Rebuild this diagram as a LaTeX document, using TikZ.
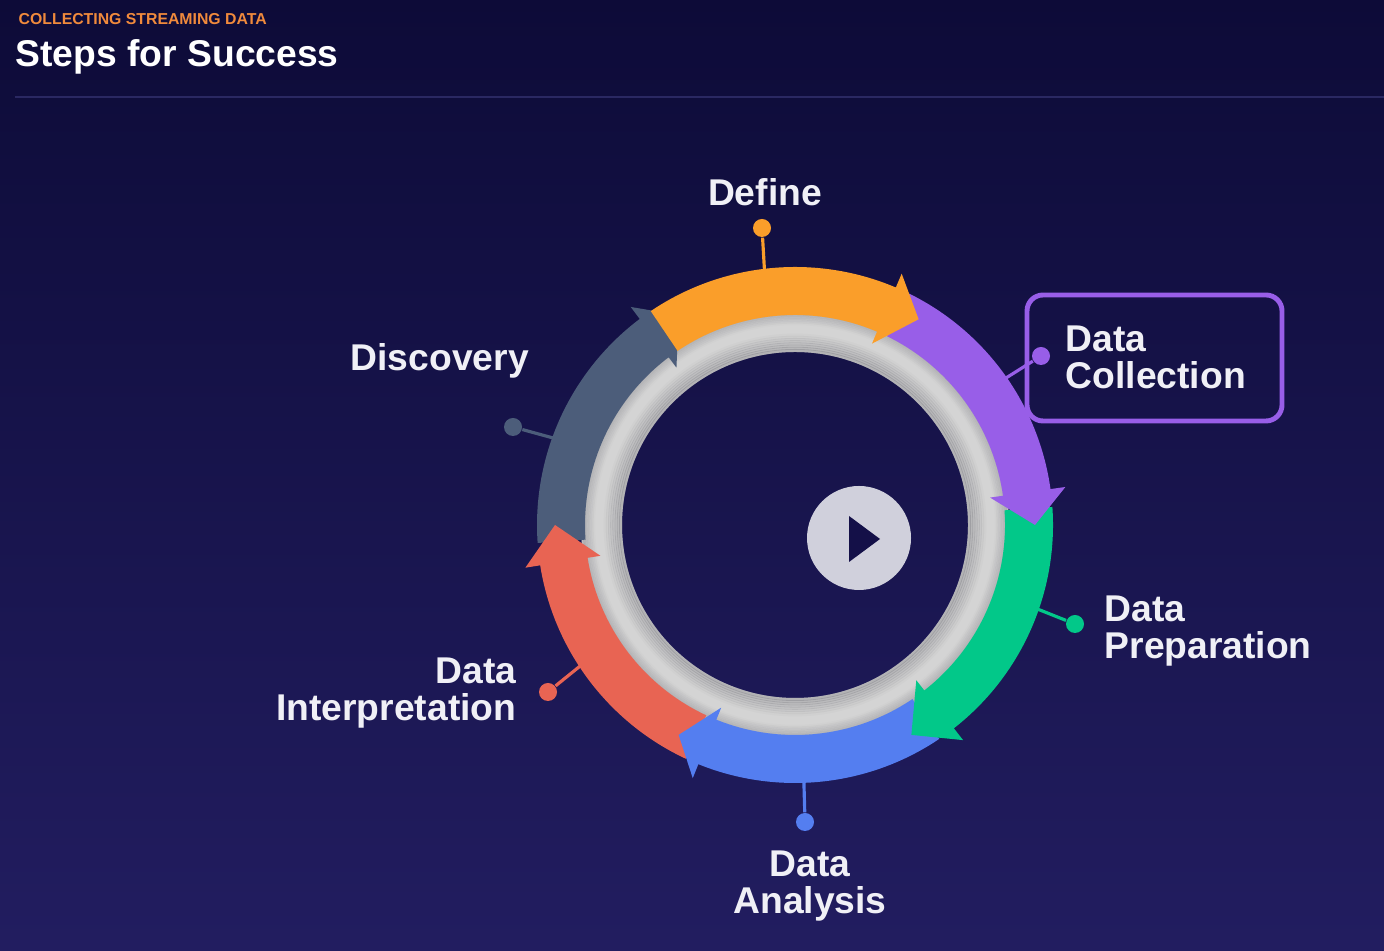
\documentclass[tikz,border=0pt]{standalone}
\usepackage{fontspec}
\setmainfont{Liberation Sans}
\usetikzlibrary{arrows.meta,positioning}
\definecolor{bgtop}{RGB}{13,11,56}
\definecolor{bgbot}{RGB}{34,29,96}
\definecolor{rule}{RGB}{42,40,98}
\definecolor{kicker}{RGB}{240,138,60}
\definecolor{labelwhite}{RGB}{240,240,246}
\definecolor{stepslate}{RGB}{76,93,122}
\definecolor{stepred}{RGB}{232,100,83}
\definecolor{stepblue}{RGB}{84,126,240}
\definecolor{stepgreen}{RGB}{2,200,137}
\definecolor{steppurple}{RGB}{152,94,232}
\definecolor{steporange}{RGB}{250,158,42}
\definecolor{ringgray}{RGB}{212,212,212}
\definecolor{ringdark}{RGB}{110,110,118}
\definecolor{playgray}{RGB}{208,208,220}
\definecolor{playdark}{RGB}{20,16,72}
\tikzset{
  lbl/.style={text=labelwhite, font=\fontsize{10.6}{10.5}\selectfont\bfseries, inner sep=0pt},
  tipdot/.style={circle, fill=#1, minimum size=0.18cm, inner sep=0pt},
  stem/.style={draw=#1, line width=0.9pt},
}

\begin{document}
\begin{tikzpicture}[>=Stealth]
\useasboundingbox (0,0) rectangle (13.84,9.51);
\fill[top color=bgtop, bottom color=bgbot] (0,0) rectangle (13.84,9.51);
\draw[rule, line width=0.6pt] (0.15,8.54) -- (13.84,8.54);
\node[anchor=base west, inner sep=0pt, text=kicker, font=\fontsize{4.5}{5}\selectfont\bfseries] (kicker) at (0.18,9.26) {COLLECTING STREAMING DATA};
\node[anchor=base west, inner sep=0pt, text=white, font=\fontsize{10.6}{12}\selectfont\bfseries] (title) at (0.15,8.84) {Steps for Success};

\begin{scope}[shift={(7.95,4.26)}]
\coordinate (rdef) at (97:2.45);
\coordinate (rcol) at (35:2.45);
\coordinate (rprep) at (-19:2.45);
\coordinate (rana) at (-88:2.45);
\coordinate (rint) at (213:2.45);
\coordinate (rdis) at (160:2.45);
\end{scope}

\node[tipdot=steporange] (ddef) at (7.62,7.23) {};
\node[tipdot=steppurple] (dcol) at (10.41,5.95) {};
\node[tipdot=stepgreen] (dprep) at (10.75,3.27) {};
\node[tipdot=stepblue] (dana) at (8.05,1.29) {};
\node[tipdot=stepred] (dint) at (5.48,2.59) {};
\node[tipdot=stepslate] (ddis) at (5.13,5.24) {};
\foreach \d/\r/\c in {ddef/rdef/steporange, dcol/rcol/steppurple, dprep/rprep/stepgreen,
                      dana/rana/stepblue, dint/rint/stepred, ddis/rdis/stepslate}{
  \draw[stem=\c] (\d) -- (\r);
}

\begin{scope}[shift={(7.95,4.26)}]
\fill[ringgray, even odd rule] (0,0) circle (2.14) (0,0) circle (1.73);
\foreach \i in {0,...,7}{
  \draw[ringdark, opacity={0.32*(1-\i/8)}, line width=0.3mm] (0,0) circle ({1.745+\i*0.022});
  \draw[ringdark, opacity={0.22*(1-\i/8)}, line width=0.3mm] (0,0) circle ({2.125-\i*0.016});
}
\foreach \s/\b/\t/\c in {184/127/119/stepslate, -115/-171/-180/stepred, -56/-112/-119/stepblue,
                         4/-52/-61/stepgreen, 64/8/0/steppurple, 124/67/59/steporange}{
  \fill[\c] (\s:2.58) arc[start angle=\s, end angle=\b, radius=2.58] -- (\b:2.73) -- (\t:2.40)
    -- (\b:1.97) -- (\b:2.10) arc[start angle=\b, end angle=\s, radius=2.10] -- cycle;
}
\end{scope}

\node[circle, fill=playgray, minimum size=1.04cm, inner sep=0pt] (play) at (8.59,4.13) {};
\fill[playdark] (8.49,4.35) -- (8.49,3.89) -- (8.80,4.12) -- cycle;

\node[draw=steppurple, line width=1.4pt, rounded corners=0.16cm, minimum width=2.55cm, minimum height=1.26cm] (colbox) at (11.545,5.93) {};
\node[lbl, anchor=north] (define) at (7.65,7.73) {Define};
\node[lbl, anchor=north west, align=left] (collect) at (10.65,6.26) {Data\\Collection};
\node[lbl, anchor=north west, align=left] (prep) at (11.04,3.56) {Data\\Preparation};
\node[lbl, anchor=north, align=center] (analysis) at (8.10,1.01) {Data\\Analysis};
\node[lbl, anchor=north east, align=right] (interp) at (5.17,2.94) {Data\\Interpretation};
\node[lbl, anchor=north west] (discovery) at (3.50,6.08) {Discovery};
\end{tikzpicture}
\end{document}
